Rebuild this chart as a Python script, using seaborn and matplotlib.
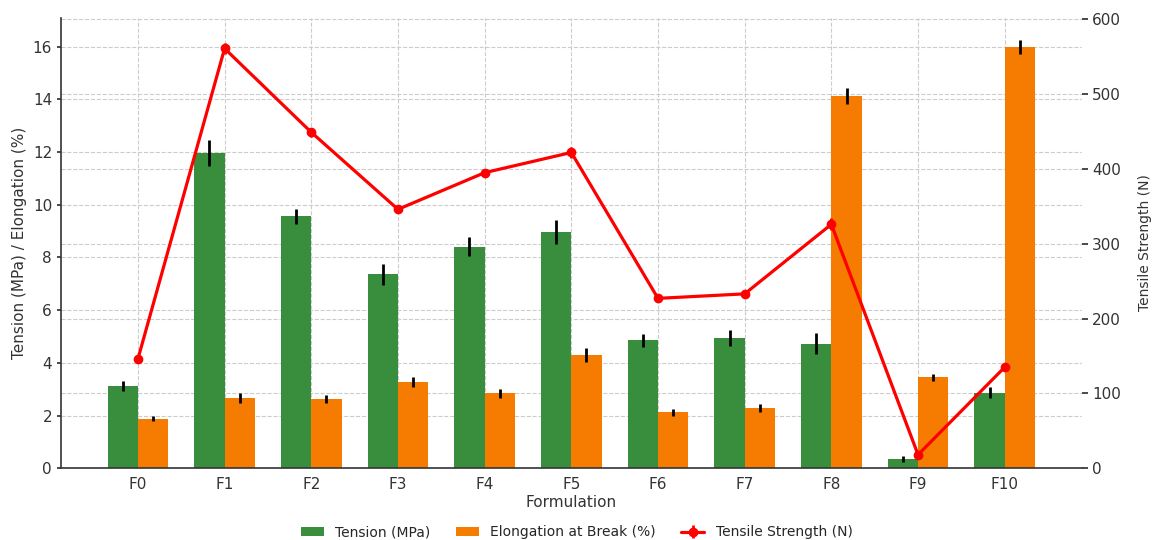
import matplotlib
matplotlib.use("Agg")
import matplotlib.pyplot as plt
import numpy as np
import pandas as pd
import seaborn as sns

# Mechanical test results per formulation
formulations = ["F0", "F1", "F2", "F3", "F4", "F5", "F6", "F7", "F8", "F9", "F10"]
tension = [3.12, 11.97, 9.56, 7.36, 8.41, 8.97, 4.85, 4.95, 4.73, 0.35, 2.87]
tension_err = [0.19, 0.48, 0.29, 0.40, 0.35, 0.44, 0.24, 0.30, 0.41, 0.10, 0.21]
elongation = [1.88, 2.66, 2.63, 3.28, 2.84, 4.30, 2.12, 2.30, 14.12, 3.45, 15.99]
elongation_err = [0.09, 0.19, 0.15, 0.18, 0.18, 0.25, 0.13, 0.15, 0.30, 0.13, 0.26]
tensile = [146, 561, 449, 346, 395, 422, 227, 233, 326, 18, 135]
tensile_err = [3, 8, 6, 4, 4, 7, 3, 3, 8, 3, 3]

measure_names = ["Tension (MPa)", "Elongation at Break (%)"]
line_name = "Tensile Strength (N)"
bar_colors = ["#388E3C", "#F57C00"]
line_color = "#FF0000"
text_color = "#333333"
grid_kw = dict(color="#cccccc", linestyle="--", linewidth=0.8)

sns.set_theme(style="white")
plt.rcParams["font.family"] = ["DejaVu Sans"]

df = pd.DataFrame({
    "Formulation": formulations * 2,
    "Measure": [measure_names[0]] * len(formulations) + [measure_names[1]] * len(formulations),
    "Value": tension + elongation,
})

fig = plt.figure(figsize=(11.53, 5.40), dpi=100)
ax1 = fig.add_axes([0.053, 0.133, 0.885, 0.834])
ax2 = ax1.twinx()

# Left axis sits on top so that both grids stay behind the bars
ax1.set_zorder(2)
ax2.set_zorder(1)
ax1.patch.set_visible(False)

sns.barplot(data=df, x="Formulation", y="Value", hue="Measure",
            palette=bar_colors, width=0.7, errorbar=None, saturation=1,
            linewidth=0, legend=False, ax=ax1)

for container, errs in zip(ax1.containers, [tension_err, elongation_err]):
    centers = [p.get_x() + p.get_width() / 2 for p in container.patches]
    heights = [p.get_height() for p in container.patches]
    ax1.errorbar(centers, heights, yerr=errs, fmt="none", ecolor="black",
                 elinewidth=2, capsize=0, zorder=3)

xpos = np.arange(len(formulations))
line_handle = ax1.errorbar(xpos, tensile, yerr=tensile_err, color=line_color,
                           marker="o", markersize=6, linewidth=2.3,
                           ecolor=line_color, elinewidth=2, capsize=0,
                           transform=ax2.transData, zorder=4)

ax1.set_xlim(-0.886, 10.886)
ax1.set_ylim(0, 17.1)
ax2.set_ylim(0, 602)
ax1.set_yticks(np.arange(0, 17, 2))
ax2.set_yticks(np.arange(0, 601, 100))

ax1.set_axisbelow(True)
ax1.grid(True, axis="both", **grid_kw)
ax2.grid(True, axis="y", **grid_kw)
ax2.grid(False, axis="x")

ax1.set_xlabel("Formulation", fontsize=11, color=text_color, labelpad=2)
ax1.set_ylabel("Tension (MPa) / Elongation (%)", fontsize=11, color=text_color)
ax2.set_ylabel(line_name, fontsize=10, color=text_color, labelpad=12)

ax1.tick_params(axis="both", labelsize=11, colors=text_color, length=3)
ax2.tick_params(axis="y", labelsize=11, colors=text_color, length=4)

for ax in (ax1, ax2):
    for side in ("top", "right"):
        ax.spines[side].set_visible(False)
ax2.spines["left"].set_visible(False)
ax2.spines["bottom"].set_visible(False)
for side in ("left", "bottom"):
    ax1.spines[side].set_color(text_color)
    ax1.spines[side].set_linewidth(1.2)

handles = list(ax1.containers[:2]) + [line_handle]
fig.legend(handles, measure_names + [line_name], loc="lower center",
           bbox_to_anchor=(0.5, -0.022), ncol=3, frameon=False, fontsize=10,
           handlelength=1.7, handletextpad=0.8, columnspacing=1.8)

fig.savefig("out.png", dpi=100)
